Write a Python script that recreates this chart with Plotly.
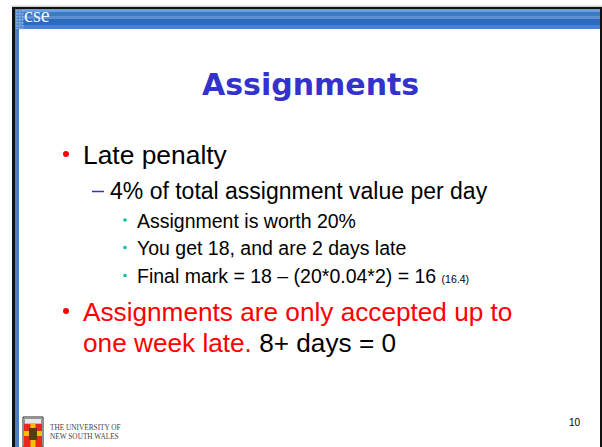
import plotly.graph_objects as go

W, H = 602, 447

header_label = "cse"
title_text = "Assignments"
level1_items = ["Late penalty"]
level2_items = ["4% of total assignment value per day"]
level3_items = ["Assignment is worth 20%",
                "You get 18, and are 2 days late",
                "Final mark = 18 – (20*0.04*2) = 16 <span style='font-size:10.5px'>(16.4)</span>"]
red_lines = ["Assignments are only accepted up to",
             "one week late. <span style='color:black'>8+ days = 0</span>"]
page_number = "10"
uni_lines = ["THE UNIVERSITY OF", "NEW SOUTH WALES"]

fig = go.Figure()
shapes = []
def rect(x0, y0, x1, y1, color, line=None):
    shapes.append(dict(type="rect", xref="x", yref="y", x0=x0, y0=y0, x1=x1, y1=y1,
                       fillcolor=color, line=dict(width=0) if line is None else line, layer="below"))
def dot(cx, cy, r, color):
    shapes.append(dict(type="circle", xref="x", yref="y", x0=cx - r, x1=cx + r, y0=cy - r, y1=cy + r,
                       fillcolor=color, line=dict(width=0), layer="above"))

# frame
rect(12, 5.5, 602, 7, "#d0d0d0")
rect(12, 7, 602, 9, "#111111")
rect(12, 7, 15, 447, "#111111")
rect(600, 7, 602, 447, "#111111")
# header bar stripes
stripes = [(9, 12, "#6f9fda"), (12, 16, "#3b7bc6"), (16, 19, "#5b8fd1"),
           (19, 25, "#2c6bbb"), (25, 29, "#4a82c9")]
for y0, y1, c in stripes:
    rect(15, y0, 600, y1, c)
# textured left part of header
rect(15, 9, 23, 29, "#5a8dcf")
for yy in range(10, 29, 3):
    for xx in range(16, 23, 3):
        rect(xx, yy, xx + 1.5, yy + 1.5, "#8fb3e3")
# left blue strip
rect(15, 29, 19, 447, "#4a7fc8")

# logo crest
rect(23, 417, 43, 447, "#ffffff", dict(color="#222222", width=1))
rect(24.5, 418.5, 41.5, 424, "#e6e6e6", dict(color="#555555", width=0.6))
rect(24, 424, 42, 447, "#e8281e")
rect(30.5, 424, 35.5, 447, "#f2c200")
rect(24, 431, 42, 436, "#f2c200")
rect(29, 428, 37, 440, "#5a3a10")

# bullets
dot(66, 154, 3, "#ff0000")
dot(66, 311, 3, "#ff0000")
for cy in [220, 247.5, 275.5]:
    dot(125, cy, 1.8, "#00c39a")
shapes.append(dict(type="line", xref="x", yref="y", x0=92, x1=104, y0=191.5, y1=191.5,
                   line=dict(color="#3333cc", width=1.5)))

fig.update_layout(shapes=shapes)

ann = []
def text(x, y, s, size, color="black", family="Liberation Sans", anchor="left", bold=False):
    if bold:
        s = "<b>" + s + "</b>"
    ann.append(dict(x=x, y=y, xref="x", yref="y", text=s, showarrow=False,
                    xanchor=anchor, yanchor="middle",
                    font=dict(size=size, color=color, family=family)))

text(22, 15, header_label, 20, "#f2f6fc", "Liberation Serif")
text(310.5, 84, title_text, 30, "#3333cc", "DejaVu Sans", "center", bold=True)

text(81, 155, level1_items[0], 26.4)
text(108, 191, level2_items[0], 23)
ys = [221, 248, 276]
for y, s in zip(ys, level3_items):
    text(135, y, s, 19.5)
text(81, 312, red_lines[0], 26.2, "#ff0000")
text(81, 343, red_lines[1], 26.2, "#ff0000")
text(583, 422, page_number, 10, "black", "Liberation Sans", "right")
text(48, 427, uni_lines[0], 7.3, "#444444", "Liberation Serif")
text(48, 436, uni_lines[1], 7.3, "#444444", "Liberation Serif")
fig.update_layout(annotations=ann)

fig.update_layout(width=W, height=H, margin=dict(l=0, r=0, t=0, b=0),
                  paper_bgcolor="white", plot_bgcolor="white", showlegend=False,
                  xaxis=dict(range=[0, W], visible=False, fixedrange=True),
                  yaxis=dict(range=[H, 0], visible=False, fixedrange=True))
fig.write_html("out.html", config={"displayModeBar": False},
               post_script="document.body.style.margin='0';document.body.style.overflow='hidden';")
